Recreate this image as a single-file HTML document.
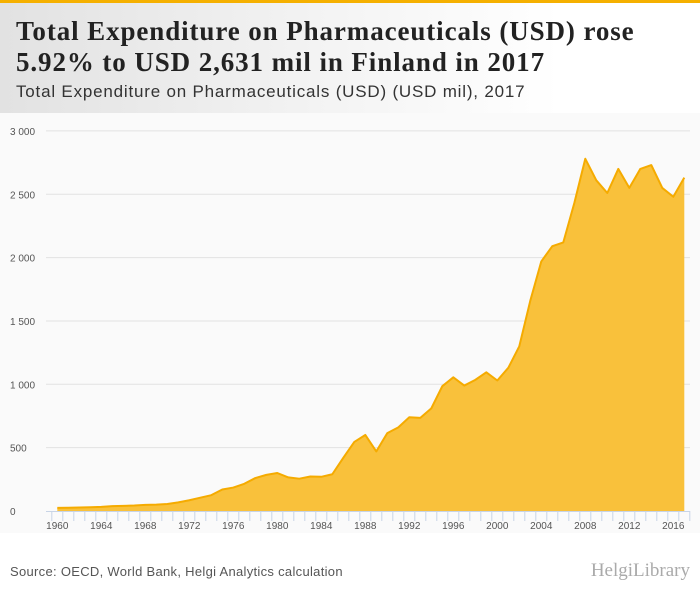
<!DOCTYPE html>
<html><head><meta charset="utf-8"><style>
body{margin:0;width:700px;height:596px;background:#fff;font-family:"Liberation Sans",sans-serif;overflow:hidden;position:relative}
#topbar{position:absolute;left:0;top:0;width:700px;height:3px;background:#f5b000}
#header{position:absolute;left:0;top:3px;width:700px;height:110px;background:linear-gradient(90deg,#e2e2e2 0%,#f3f3f3 45%,#fff 80%)}
#title{position:absolute;left:16px;top:13px;font-family:"Liberation Serif",serif;font-weight:bold;font-size:27px;line-height:31px;color:#222;letter-spacing:0.9px;white-space:nowrap}
#subtitle{position:absolute;left:16px;top:79px;font-size:17px;color:#333;letter-spacing:0.8px;white-space:nowrap}
#chart{position:absolute;left:0;top:113px}
#source{position:absolute;left:10px;top:564px;font-size:13px;color:#555;letter-spacing:0.3px}
#logo{position:absolute;right:10px;top:560px;font-size:19px;color:#aaa;font-family:"Liberation Serif",serif}
</style></head><body>
<div id="topbar"></div>
<div id="header">
<div id="title">Total Expenditure on Pharmaceuticals (USD) rose<br>5.92% to USD 2,631 mil in Finland in 2017</div>
<div id="subtitle">Total Expenditure on Pharmaceuticals (USD) (USD mil), 2017</div>
</div>
<svg id="chart" width="700" height="435"></svg>
<div id="source">Source: OECD, World Bank, Helgi Analytics calculation</div>
<div id="logo">HelgiLibrary</div>
<script>
const years=[];for(let y=1960;y<=2017;y++)years.push(y);
const values=[25,26,28,30,33,38,40,43,48,50,55,68,85,105,125,170,185,215,260,285,300,265,255,272,270,290,420,545,600,470,615,660,740,735,810,985,1055,990,1035,1095,1030,1130,1300,1660,1970,2090,2120,2430,2780,2610,2510,2700,2550,2700,2730,2550,2480,2631];
const yTicks=[0,500,1000,1500,2000,2500,3000];
const yTickLabels=["0","500","1 000","1 500","2 000","2 500","3 000"];
const xLabelYears=[1960,1964,1968,1972,1976,1980,1984,1988,1992,1996,2000,2004,2008,2012,2016];
const NS="http://www.w3.org/2000/svg";
const svg=document.getElementById('chart');
const OY=113;
const x0=57.3,step=11.0;
function xs(i){return x0+i*step;}
function ys(v){return 511-OY-v*0.1267;}
function mk(t,a){const e=document.createElementNS(NS,t);for(const k in a)e.setAttribute(k,a[k]);svg.appendChild(e);return e;}
const bg=mk('rect',{x:0,y:0,width:700,height:420,fill:'#fafafa'});


yTicks.forEach((v,i)=>{
 if(v>0){const g=mk('line',{x1:46,x2:690,y1:ys(v),y2:ys(v),stroke:'#e2e2e2','stroke-width':1});
 
 }
 const t=mk('text',{x:10,y:ys(v)+4,'font-size':10,fill:'#555','font-family':'Liberation Sans, sans-serif'});
 t.textContent=yTickLabels[i];
 
 
});
let d='M'+xs(0)+','+ys(0);
values.forEach((v,i)=>{d+=' L'+xs(i)+','+ys(v);});
d+=' L'+xs(values.length-1)+','+ys(0)+' Z';
const area=mk('path',{d:d,fill:'#f9c13b'});


const line=mk('polyline',{points:values.map((v,i)=>xs(i)+','+ys(v)).join(' '),fill:'none',stroke:'#f5ab00','stroke-width':2,'stroke-linejoin':'round'});


const ax=mk('line',{x1:46,x2:690,y1:ys(0)+0.5,y2:ys(0)+0.5,stroke:'#c8d4e6','stroke-width':1});


for(let i=0;i<=years.length;i++){
 const tk=mk('line',{x1:xs(i)-step/2,x2:xs(i)-step/2,y1:ys(0),y2:ys(0)+10,stroke:'#c8d4e6','stroke-width':1});
 
 
}
xLabelYears.forEach(yr=>{
 const i=years.indexOf(yr);
 const t=mk('text',{x:xs(i),y:ys(0)+18,'font-size':10,fill:'#555','text-anchor':'middle','font-family':'Liberation Sans, sans-serif'});
 t.textContent=String(yr);
 
 
});
</script>
</body></html>
